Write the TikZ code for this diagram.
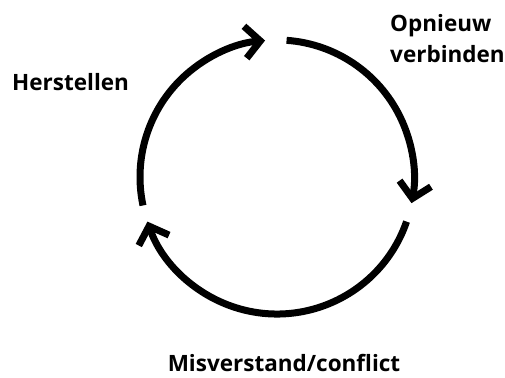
\documentclass[tikz,border=0pt]{standalone}
\usepackage{fontspec}
\setmainfont{Open Sans}
\usetikzlibrary{arrows.meta}

\begin{document}
\begin{tikzpicture}[
    x=1pt, y=1pt,
    font=\fontsize{22.5}{31}\selectfont\bfseries,
    >={Straight Barb[length=15pt,width=32pt]},
    loop/.style={->, line width=7pt, line cap=butt},
    lbl/.style={inner sep=0pt, align=left},
]
\useasboundingbox (0,0) rectangle (505,377);

% ---- Cycle centre --------------------------------------------------
\coordinate (c) at (277,200);

% ---- Arcs ----------------------------------------------------------
\draw[loop] (c) ++(86:137)  arc[start angle=86,  end angle=-11,  radius=137];
\draw[loop] (c) ++(-19:137) arc[start angle=-19, end angle=-161, radius=137];
\draw[loop] (c) ++(192:137) arc[start angle=192, end angle=95,   radius=137];

% ---- Labels --------------------------------------------------------
\node[lbl, anchor=base west] (reconnect) at (390,314) {Opnieuw\\verbinden};
\node[lbl, anchor=base west] (repair) at (12,286) {Herstellen};
\node[lbl, anchor=base] (conflict) at (284,6) {Misverstand/conflict};

\end{tikzpicture}
\end{document}
